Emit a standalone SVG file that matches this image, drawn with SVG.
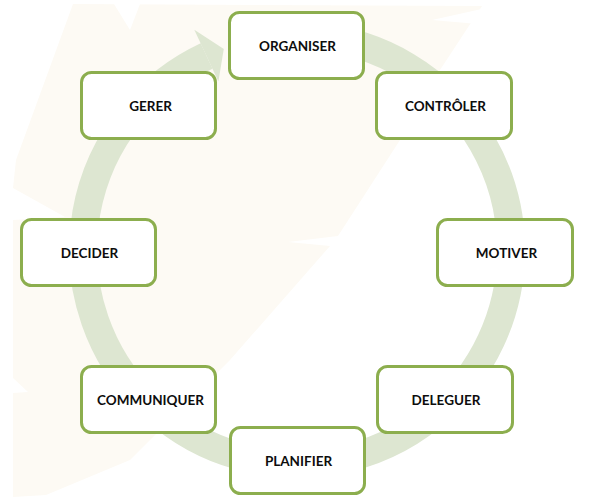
<svg xmlns="http://www.w3.org/2000/svg" width="600" height="500" viewBox="0 0 600 500">
  <defs>
    <style>
      .box { fill: #ffffff; stroke: #8cae4e; stroke-width: 3; }
      .lbl { font-family: Lato, "Open Sans", "Liberation Sans", sans-serif; font-weight: 700; font-size: 13.5px; fill: #0d0d0d; text-anchor: middle; }
      .wm { fill: #fdfaf4; }
      .cut { fill: #ffffff; }
      .band { fill: none; stroke: #dde6d1; stroke-width: 28; }
      .head { fill: #dde6d1; }
    </style>
  </defs>
  <rect x="0" y="0" width="600" height="500" fill="#ffffff"/>

  <!-- faint leaf watermark -->
  <g id="watermark">
    <path class="wm" d="M 73 4 L 482 6 L 440 70 L 400 140 L 338 236 L 288 242 L 330 246 L 230 360 L 130 460 L 46 495 L 13 497 L 13 393 L 28 392 L 13 378 L 13 220 L 65 217 L 13 188 L 16 160 Z"/>
    <polygon class="cut" points="114,4 130,30 140,4"/>
    <polygon class="cut" points="432,20 486,8 478,24"/>
  </g>

  <!-- cycle arrow -->
  <g id="connectors">
    <path class="band" d="M 315.7 36.8 A 214 214 0 1 1 206.6 56.05"/>
    <polygon class="head" points="194.3,29.8 223.8,48.9 218.4,81.4"/>
  </g>

  <g id="organiser">
    <rect class="box" x="229.5" y="12.5" width="134" height="66" rx="10"/>
    <text class="lbl" x="297.5" y="51">ORGANISER</text>
  </g>
  <g id="controler">
    <rect class="box" x="376.5" y="72.5" width="135" height="66" rx="10"/>
    <text class="lbl" x="445.5" y="111">CONTRÔLER</text>
  </g>
  <g id="motiver">
    <rect class="box" x="437.5" y="219.5" width="135" height="66" rx="10"/>
    <text class="lbl" x="506.5" y="258">MOTIVER</text>
  </g>
  <g id="deleguer">
    <rect class="box" x="377.5" y="366.5" width="135" height="66" rx="10"/>
    <text class="lbl" x="446" y="405">DELEGUER</text>
  </g>
  <g id="planifier">
    <rect class="box" x="230.5" y="427.5" width="134" height="66" rx="10"/>
    <text class="lbl" x="298.5" y="466">PLANIFIER</text>
  </g>
  <g id="communiquer">
    <rect class="box" x="81.5" y="366.5" width="134" height="66" rx="10"/>
    <text class="lbl" x="150.5" y="405">COMMUNIQUER</text>
  </g>
  <g id="decider">
    <rect class="box" x="21.5" y="219.5" width="134" height="66" rx="10"/>
    <text class="lbl" x="89.5" y="258">DECIDER</text>
  </g>
  <g id="gerer">
    <rect class="box" x="81.5" y="72.5" width="134" height="66" rx="10"/>
    <text class="lbl" x="150.5" y="111">GERER</text>
  </g>
</svg>
